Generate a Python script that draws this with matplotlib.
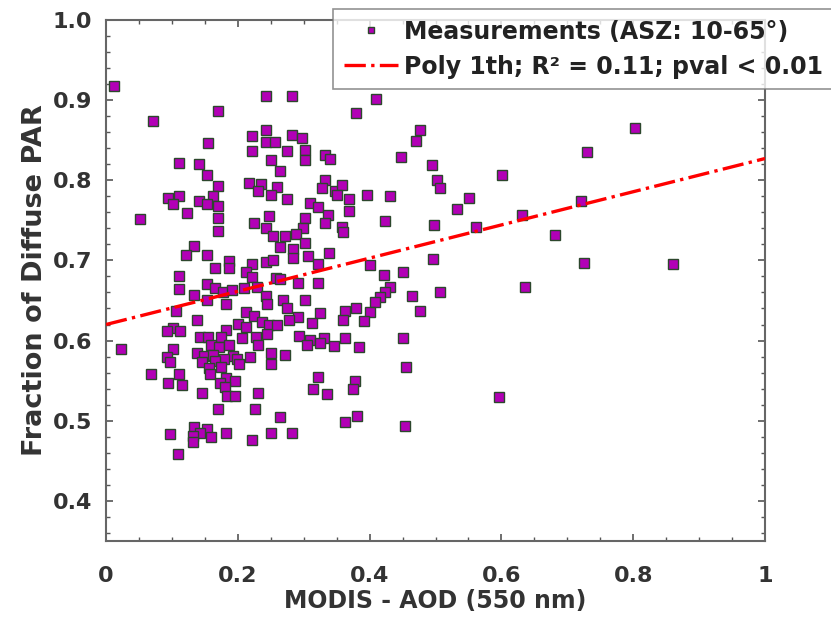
import numpy as np
import matplotlib
matplotlib.use('Agg')
import matplotlib.pyplot as plt
from matplotlib.ticker import MultipleLocator

# AOD (x) and fraction of diffuse PAR (y)
aod = [0.012, 0.243, 0.170, 0.072, 0.221, 0.242, 0.242, 0.256, 0.154, 0.221,
       0.251, 0.111, 0.141, 0.153, 0.264, 0.170, 0.217, 0.235, 0.231, 0.259,
       0.251, 0.094, 0.111, 0.102, 0.141, 0.162, 0.153, 0.170, 0.123, 0.170,
       0.052, 0.224, 0.248, 0.242, 0.253, 0.170,
       0.133, 0.122, 0.153, 0.187, 0.187, 0.166, 0.222, 0.242, 0.254, 0.212,
       0.222, 0.111, 0.111, 0.153, 0.165, 0.177, 0.191, 0.210, 0.229, 0.258,
       0.133, 0.153, 0.182, 0.243, 0.244, 0.106, 0.213, 0.225, 0.138, 0.201,
       0.212, 0.236, 0.248, 0.259, 0.102, 0.092, 0.112, 0.182, 0.142, 0.155,
       0.175, 0.207, 0.228, 0.244, 0.159, 0.171, 0.186, 0.230, 0.022, 0.102,
       0.138, 0.148, 0.163, 0.193, 0.219, 0.251, 0.092, 0.179, 0.198, 0.145,
       0.165, 0.097, 0.202, 0.251, 0.157, 0.175, 0.068, 0.111, 0.158, 0.182,
       0.196, 0.094, 0.116, 0.173, 0.181, 0.146, 0.183, 0.196, 0.231, 0.170,
       0.226,
       0.264, 0.097, 0.134, 0.153, 0.142, 0.132, 0.160, 0.132, 0.182, 0.222,
       0.251, 0.109,
       0.282, 0.410, 0.380, 0.477, 0.470, 0.282, 0.298, 0.274, 0.302, 0.302,
       0.332, 0.340, 0.447, 0.495, 0.332, 0.502, 0.507, 0.327, 0.348, 0.358,
       0.350, 0.368, 0.396, 0.431, 0.274, 0.310, 0.321, 0.368, 0.337, 0.302,
       0.423, 0.497, 0.332, 0.299, 0.358, 0.360, 0.272, 0.289,
       0.302, 0.264, 0.284, 0.283, 0.307, 0.339, 0.321, 0.496, 0.401, 0.264,
       0.292, 0.321, 0.422, 0.451, 0.431, 0.423, 0.464, 0.507, 0.302, 0.269,
       0.274, 0.416, 0.408, 0.380, 0.401, 0.324, 0.363, 0.477, 0.291, 0.278,
       0.360, 0.392, 0.312, 0.293, 0.309, 0.331, 0.325, 0.305, 0.346, 0.363,
       0.384, 0.451, 0.272, 0.455, 0.321, 0.378, 0.314, 0.336, 0.375,
       0.282, 0.363, 0.381, 0.454,
       0.802, 0.730, 0.601, 0.551, 0.532, 0.720, 0.631, 0.562, 0.681, 0.725,
       0.861, 0.636, 0.597]
fdiff = [0.918, 0.905, 0.886, 0.874, 0.855, 0.862, 0.848, 0.848, 0.846, 0.837,
         0.825, 0.821, 0.820, 0.806, 0.812, 0.793, 0.797, 0.795, 0.787, 0.792,
         0.781, 0.778, 0.780, 0.770, 0.774, 0.780, 0.770, 0.768, 0.759, 0.753,
         0.751, 0.747, 0.755, 0.740, 0.730, 0.736,
         0.718, 0.707, 0.707, 0.699, 0.690, 0.691, 0.695, 0.698, 0.700, 0.685,
         0.679, 0.681, 0.664, 0.671, 0.666, 0.660, 0.663, 0.666, 0.667, 0.678,
         0.657, 0.651, 0.646, 0.656, 0.645, 0.637, 0.636, 0.630, 0.626, 0.621,
         0.617, 0.623, 0.619, 0.619, 0.616, 0.612, 0.612, 0.613, 0.605, 0.604,
         0.604, 0.603, 0.604, 0.608, 0.594, 0.592, 0.595, 0.594, 0.590, 0.590,
         0.585, 0.581, 0.582, 0.581, 0.580, 0.584, 0.579, 0.577, 0.577, 0.573,
         0.575, 0.573, 0.571, 0.571, 0.566, 0.567, 0.558, 0.558, 0.558, 0.553,
         0.550, 0.547, 0.544, 0.547, 0.542, 0.535, 0.531, 0.531, 0.535, 0.515,
         0.515,
         0.505, 0.484, 0.492, 0.490, 0.485, 0.481, 0.480, 0.473, 0.485, 0.476,
         0.485, 0.459,
         0.905, 0.901, 0.884, 0.863, 0.849, 0.856, 0.852, 0.837, 0.838, 0.825,
         0.832, 0.826, 0.829, 0.819, 0.800, 0.800, 0.790, 0.790, 0.787, 0.794,
         0.781, 0.777, 0.781, 0.780, 0.776, 0.772, 0.767, 0.762, 0.756, 0.753,
         0.749, 0.744, 0.746, 0.740, 0.742, 0.735, 0.730, 0.733,
         0.722, 0.717, 0.714, 0.703, 0.706, 0.709, 0.696, 0.702, 0.694, 0.677,
         0.672, 0.672, 0.682, 0.685, 0.667, 0.660, 0.656, 0.660, 0.651, 0.650,
         0.641, 0.654, 0.648, 0.641, 0.635, 0.634, 0.637, 0.637, 0.629, 0.626,
         0.626, 0.624, 0.622, 0.606, 0.601, 0.603, 0.597, 0.594, 0.593, 0.603,
         0.592, 0.603, 0.582, 0.567, 0.554, 0.550, 0.539, 0.533, 0.539,
         0.485, 0.499, 0.506, 0.494,
         0.865, 0.835, 0.806, 0.778, 0.764, 0.774, 0.757, 0.741, 0.732, 0.697,
         0.695, 0.667, 0.529]

# linear fit shown on the chart
fit_x = [0.0, 1.0]
fit_y = [0.62, 0.827]

label_pts = 'Measurements (ASZ: 10-65°)'
label_fit = 'Poly 1th; R² = 0.11; pval < 0.01'

plt.rcParams['font.family'] = ['DejaVu Sans']
plt.rcParams['font.weight'] = 'bold'

fig = plt.figure(figsize=(8.31, 6.19), dpi=100)
ax = fig.add_axes([0.1276, 0.126, 0.793, 0.842])

ax.plot(aod, fdiff, 's', color='#b200b6', markeredgecolor='#2c472c',
        markeredgewidth=1.0, markersize=7, label=label_pts, zorder=3)
ax.plot(fit_x, fit_y, '-.', color='red', linewidth=2.4, label=label_fit, zorder=4)

ax.set_xlim(0, 1)
ax.set_ylim(0.35, 1.0)
ax.xaxis.set_minor_locator(MultipleLocator(0.05))
ax.yaxis.set_minor_locator(MultipleLocator(0.02))
ax.set_xticks([0, 0.2, 0.4, 0.6, 0.8, 1.0])
ax.set_xticklabels(['0', '0.2', '0.4', '0.6', '0.8', '1'])
ax.set_yticks([0.4, 0.5, 0.6, 0.7, 0.8, 0.9, 1.0])
ax.set_yticklabels(['0.4', '0.5', '0.6', '0.7', '0.8', '0.9', '1.0'])

ax.tick_params(which='both', direction='in', top=True, right=True,
               colors='#555555', labelcolor='#333333', labelsize=16)
ax.tick_params(which='major', length=5, width=1.2)
ax.tick_params(which='minor', length=3, width=1.0)
ax.tick_params(axis='x', which='major', pad=18)
ax.tick_params(axis='y', which='major', pad=10)
for s in ax.spines.values():
    s.set_color('#666666')
    s.set_linewidth(1.5)

ax.set_xlabel('MODIS - AOD (550 nm)', fontsize=17, fontweight='bold',
              color='#333333', labelpad=2)
ax.set_ylabel('Fraction of Diffuse PAR', fontsize=19.5, fontweight='bold',
              color='#333333', labelpad=3)

leg = fig.legend(loc='upper left', bbox_to_anchor=(333 / 831, 1 - 9 / 619),
                 fontsize=17, frameon=True, fancybox=False, handlelength=2.3,
                 borderpad=0.45, labelspacing=0.47, handletextpad=0.25,
                 borderaxespad=0, markerscale=0.7)
leg.get_frame().set_edgecolor('#777777')
leg.get_frame().set_linewidth(1.2)
for t in leg.get_texts():
    t.set_color('#222222')

fig.savefig('out.png', dpi=100)
